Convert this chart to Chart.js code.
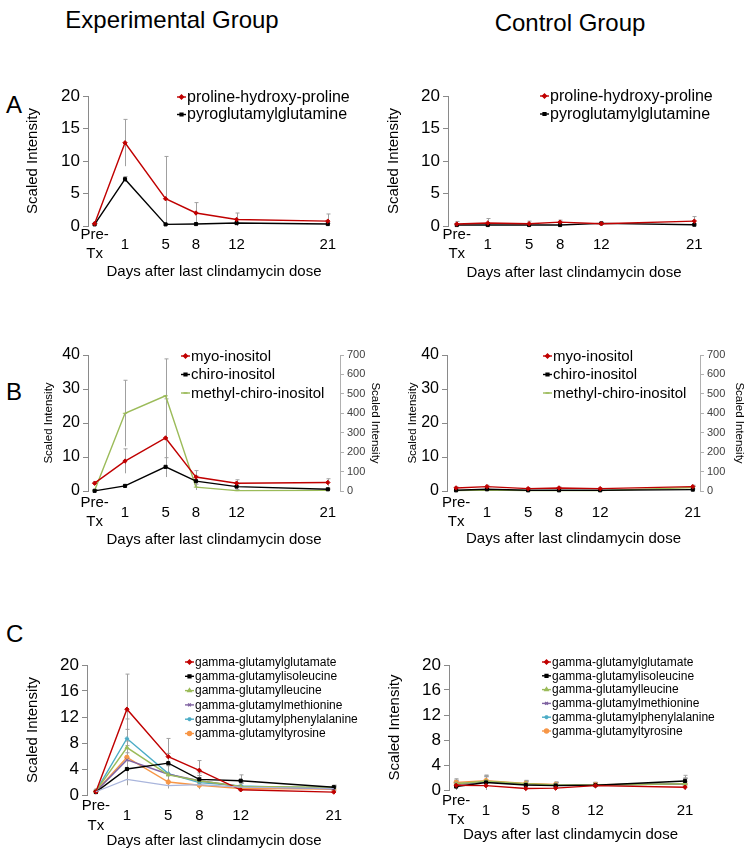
<!DOCTYPE html>
<html>
<head>
<meta charset="utf-8">
<script src="https://cdn.jsdelivr.net/npm/chart.js@4.4.1/dist/chart.umd.min.js"></script>
<style>
  body { margin: 0; background: #fff; width: 747px; height: 852px; position: relative; overflow: hidden; font-family: 'Liberation Sans', Arial, sans-serif; }
  .panel { position: absolute; }
  .lbl { position: absolute; color: #000; white-space: nowrap; line-height: 1; }
</style>
</head>
<body>
<div class="lbl" style="left:172px;top:8px;font-size:24px;transform:translateX(-50%)">Experimental Group</div>
<div class="lbl" style="left:570px;top:11px;font-size:24px;transform:translateX(-50%)">Control Group</div>
<div class="lbl" style="left:6px;top:93px;font-size:24px">A</div>
<div class="lbl" style="left:6px;top:380px;font-size:24px">B</div>
<div class="lbl" style="left:6px;top:622px;font-size:24px">C</div>
<script>
// x positions (days) and their labels
const days = [-2, 1, 5, 8, 12, 21];
const dayLabels = [['Pre-', 'Tx'], '1', '5', '8', '12', '21'];
const xTitle = 'Days after last clindamycin dose';
const yTitle = 'Scaled Intensity';

// Panel A
const prolineExp = [0.35, 12.8, 4.2, 2.0, 1.0, 0.75];
const prolineExpErr = [0.3, 3.6, 6.5, 1.6, 1.0, 1.1];
const pyroExp = [0.25, 7.2, 0.25, 0.3, 0.45, 0.3];
const pyroExpErr = [0.1, 0.4, 0.1, 0.1, 0.1, 0.1];
const prolineCtrl = [0.3, 0.45, 0.35, 0.6, 0.35, 0.75];
const prolineCtrlErr = [0.4, 0.7, 0.4, 0.3, 0.2, 0.7];
const pyroCtrl = [0.15, 0.15, 0.15, 0.15, 0.4, 0.2];
const pyroCtrlErr = [0.1, 0.1, 0.1, 0.1, 0.2, 0.1];

// Panel B (methyl-chiro-inositol on the right axis)
const myoExp = [2.3, 8.8, 15.6, 4.1, 2.3, 2.5];
const myoExpErr = [0.5, 3.6, 11.5, 1.9, 1.0, 1.1];
const chiroExp = [0.05, 1.5, 7.1, 2.9, 1.3, 0.5];
const chiroExpErr = [0.1, 0.3, 2.7, 1.5, 0.5, 0.3];
const methylExp = [3, 400, 490, 20, 2, 3];
const methylExpErr = [5, 170, 190, 15, 5, 5];
const myoCtrl = [0.9, 1.3, 0.7, 0.9, 0.7, 1.3];
const myoCtrlErr = [0.3, 0.4, 0.3, 0.3, 0.2, 0.4];
const chiroCtrl = [0.2, 0.5, 0.2, 0.2, 0.2, 0.4];
const chiroCtrlErr = [0.1, 0.2, 0.1, 0.1, 0.1, 0.2];
const methylCtrl = [2, 5, 2, 2, 2, 18];
const methylCtrlErr = [2, 3, 2, 2, 2, 5];

// Panel C
const glutamateExp = [0.5, 13.2, 5.9, 3.8, 0.8, 0.45];
const glutamateExpErr = [0.3, 5.4, 2.8, 1.5, 0.3, 0.2];
const isoleucineExp = [0.45, 4.0, 4.9, 2.4, 2.2, 1.2];
const isoleucineExpErr = [0.2, 2.5, 1.5, 1.0, 0.9, 0.3];
const leucineExp = [0.6, 7.3, 3.1, 2.2, 1.3, 1.2];
const leucineExpErr = [0.3, 2.8, 1.5, 0.8, 0.5, 0.3];
const methionineExp = [0.55, 5.4, 3.2, 2.2, 1.3, 0.95];
const methionineExpErr = [0.3, 2.2, 1.3, 0.8, 0.5, 0.3];
const phenylalanineExp = [0.6, 8.7, 3.3, 1.9, 1.4, 1.0];
const phenylalanineExpErr = [0.3, 3.0, 1.5, 0.8, 0.5, 0.3];
const tyrosineExp = [0.55, 5.8, 2.0, 1.5, 1.0, 0.9];
const tyrosineExpErr = [0.3, 2.5, 1.0, 0.6, 0.4, 0.3];
const unlabeledExp = [0.5, 2.4, 1.45, 1.6, 1.2, 1.0];
const glutamateCtrl = [0.75, 0.7, 0.25, 0.3, 0.7, 0.45];
const isoleucineCtrl = [0.55, 1.2, 0.8, 0.7, 0.75, 1.45];
const leucineCtrl = [1.0, 1.4, 1.0, 0.8, 0.8, 1.0];
const methionineCtrl = [0.9, 1.3, 0.9, 0.8, 0.8, 1.0];
const phenylalanineCtrl = [0.95, 1.3, 0.9, 0.85, 0.8, 1.0];
const tyrosineCtrl = [1.2, 1.5, 1.05, 0.9, 0.85, 0.95];
const gammaCtrlErr = [0.6, 0.9, 0.5, 0.4, 0.4, 0.9];

const FONT = "'Liberation Sans', Arial, sans-serif";
const AXIS = '#8a8a8a';
const RED = '#c00000', BLACK = '#000000', GREEN = '#9bbb59', PURPLE = '#8064a2', TEAL = '#4bacc6', ORANGE = '#f79646';
Chart.defaults.font.family = FONT;
Chart.defaults.color = '#000';

function series(label, values, errors, color, style, extra) {
  return Object.assign({
    label,
    data: values.map((v, i) => ({x: days[i], y: v})),
    errors,
    borderColor: color,
    backgroundColor: color,
    borderWidth: 1.4,
    pointStyle: style,
    pointRadius: 2.2,
    pointBorderWidth: 1,
    tension: 0,
    clip: 8
  }, extra || {});
}

// grey error bars, drawn under the lines
const errorBars = {
  id: 'errorBars',
  beforeDatasetsDraw(chart) {
    const ctx = chart.ctx;
    ctx.save();
    ctx.strokeStyle = '#a0a0a0';
    ctx.lineWidth = 1;
    chart.data.datasets.forEach((ds) => {
      if (!ds.errors) return;
      const ys = chart.scales[ds.yAxisID || 'y'];
      const xs = chart.scales.x;
      ds.data.forEach((pt, j) => {
        const e = ds.errors[j];
        const px = Math.round(xs.getPixelForValue(pt.x)) + 0.5;
        const top = ys.getPixelForValue(pt.y + e);
        const bot = ys.getPixelForValue(Math.max(pt.y - e, ys.min));
        ctx.beginPath();
        ctx.moveTo(px, top); ctx.lineTo(px, bot);
        ctx.moveTo(px - 2, top); ctx.lineTo(px + 2, top);
        ctx.stroke();
      });
    });
    ctx.restore();
  }
};

// Excel-style key inside the plot: short line + marker + name
const seriesKey = {
  id: 'seriesKey',
  afterDatasetsDraw(chart, args, opts) {
    if (!opts || opts.x === undefined) return;
    const ctx = chart.ctx;
    ctx.save();
    ctx.font = opts.size + 'px ' + FONT;
    ctx.textBaseline = 'middle';
    ctx.textAlign = 'left';
    let row = 0;
    chart.data.datasets.forEach((ds) => {
      if (ds.noKey) return;
      const y = opts.y + row * opts.rowH;
      const x = opts.x;
      ctx.strokeStyle = ds.borderColor;
      ctx.lineWidth = 1.4;
      ctx.beginPath();
      ctx.moveTo(x - 10, y); ctx.lineTo(x - 1, y);
      ctx.stroke();
      ctx.fillStyle = ds.borderColor;
      Chart.helpers.drawPoint(ctx, {pointStyle: ds.pointStyle, radius: 2, borderWidth: 1, rotation: 0}, x - 5.5, y);
      ctx.fillStyle = '#000';
      ctx.fillText(ds.label, x, y + 0.5);
      row++;
    });
    ctx.restore();
  }
};

function makeChart(spec) {
  const box = spec.box, area = spec.area;
  const div = document.createElement('div');
  div.className = 'panel';
  div.style.left = box.x + 'px';
  div.style.top = box.y + 'px';
  div.style.width = box.w + 'px';
  div.style.height = box.h + 'px';
  const cv = document.createElement('canvas');
  div.appendChild(cv);
  document.body.appendChild(div);

  const padLeft = 10;
  const yW = area.l - box.x - padLeft;
  const rW = spec.right ? box.x + box.w - area.r : 0;
  const xH = box.y + box.h - area.b;
  const yTitleSize = spec.yTitleSize || 15;
  const xTitleSize = 15;
  const yTitlePad = spec.yTitleX - (box.x + padLeft) - yTitleSize * 0.6;
  const xTitlePad = area.b + xH - spec.xTitleY - xTitleSize * 0.6;

  const scales = {
    x: {
      type: 'linear', min: spec.xMin, max: spec.xMax,
      grid: {display: false, drawTicks: false},
      border: {display: false},
      afterBuildTicks: (s) => { s.ticks = days.map((v) => ({value: v})); },
      afterFit: (s) => { s.height = xH; },
      ticks: {
        autoSkip: false, maxRotation: 0, crossAlign: 'center',
        padding: spec.xTickY - area.b,
        font: {size: 15, lineHeight: spec.xTickLH || 1.27},
        callback: (v, i) => dayLabels[i]
      },
      title: {display: true, text: xTitle, font: {size: xTitleSize}, padding: {top: 0, bottom: xTitlePad}}
    },
    y: {
      position: 'left', min: 0, max: spec.yMax,
      grid: {drawOnChartArea: false, tickLength: 5, color: AXIS},
      border: {color: AXIS},
      afterFit: (s) => { s.width = yW; },
      ticks: {stepSize: spec.yStep, padding: 3, font: {size: spec.yTickSize || 17}},
      title: {display: true, text: yTitle, font: {size: yTitleSize}, padding: {top: yTitlePad, bottom: 0}}
    }
  };
  if (spec.right) {
    const rSize = 11.5;
    scales.y2 = {
      position: 'right', min: 0, max: 700,
      grid: {drawOnChartArea: false, tickLength: 4, color: '#b0b0b0'},
      border: {color: '#b0b0b0'},
      afterFit: (s) => { s.width = rW; },
      ticks: {stepSize: 100, padding: 3, color: '#404040', font: {size: 11}},
      title: {display: true, text: yTitle, font: {size: rSize}, padding: {top: area.r + rW - spec.rightTitleX - rSize * 0.6, bottom: 0}}
    };
  }

  return new Chart(cv, {
    type: 'line',
    data: {datasets: spec.datasets},
    options: {
      responsive: true,
      maintainAspectRatio: false,
      animation: false,
      layout: {padding: {
        left: padLeft,
        right: box.x + box.w - area.r - rW,
        top: area.t - box.y,
        bottom: 0
      }},
      scales,
      plugins: {
        legend: {display: false},
        tooltip: {enabled: false},
        seriesKey: {x: spec.key.x - box.x, y: spec.key.y - box.y, rowH: spec.key.rowH, size: spec.key.size}
      }
    },
    plugins: [errorBars, seriesKey]
  });
}

// A
makeChart({
  box: {x: 0, y: 70, w: 390, h: 222}, area: {l: 88, t: 96, r: 340, b: 226},
  xMin: -2.65, xMax: 22.2, yMax: 20, yStep: 5,
  yTitleX: 33, xTickY: 235, xTitleY: 272,
  key: {x: 187, y: 97, rowH: 17.5, size: 16},
  datasets: [
    series('proline-hydroxy-proline', prolineExp, prolineExpErr, RED, 'rectRot'),
    series('pyroglutamylglutamine', pyroExp, pyroExpErr, BLACK, 'rect')
  ]
});
makeChart({
  box: {x: 375, y: 70, w: 372, h: 222}, area: {l: 448, t: 96, r: 700, b: 226},
  xMin: -2.85, xMax: 21.55, yMax: 20, yStep: 5,
  yTitleX: 394, xTickY: 235, xTitleY: 273,
  key: {x: 550, y: 96, rowH: 18, size: 16},
  datasets: [
    series('proline-hydroxy-proline', prolineCtrl, prolineCtrlErr, RED, 'rectRot'),
    series('pyroglutamylglutamine', pyroCtrl, pyroCtrlErr, BLACK, 'rect')
  ]
});

// B
makeChart({
  box: {x: 0, y: 330, w: 390, h: 222}, area: {l: 88, t: 355, r: 340, b: 491},
  xMin: -2.65, xMax: 22.2, yMax: 40, yStep: 10, yTickSize: 16, yTitleSize: 11.5,
  yTitleX: 49, xTickY: 503, xTitleY: 540, right: true, rightTitleX: 375,
  key: {x: 191, y: 356, rowH: 18.5, size: 15},
  datasets: [
    series('myo-inositol', myoExp, myoExpErr, RED, 'rectRot'),
    series('chiro-inositol', chiroExp, chiroExpErr, BLACK, 'rect'),
    series('methyl-chiro-inositol', methylExp, methylExpErr, GREEN, 'line', {yAxisID: 'y2'})
  ]
});
makeChart({
  box: {x: 375, y: 330, w: 372, h: 222}, area: {l: 447, t: 355, r: 700, b: 491},
  xMin: -2.88, xMax: 21.7, yMax: 40, yStep: 10, yTickSize: 16, yTitleSize: 11.5,
  yTitleX: 413, xTickY: 503, xTitleY: 539, right: true, rightTitleX: 739,
  key: {x: 553, y: 356, rowH: 18.5, size: 15},
  datasets: [
    series('myo-inositol', myoCtrl, myoCtrlErr, RED, 'rectRot'),
    series('chiro-inositol', chiroCtrl, chiroCtrlErr, BLACK, 'rect'),
    series('methyl-chiro-inositol', methylCtrl, methylCtrlErr, GREEN, 'line', {yAxisID: 'y2'})
  ]
});

// C
makeChart({
  box: {x: 0, y: 640, w: 390, h: 212}, area: {l: 87, t: 665, r: 341, b: 795},
  xMin: -2.86, xMax: 21.7, yMax: 20, yStep: 4,
  yTitleX: 33, xTickY: 806, xTitleY: 841, xTickLH: 1.35,
  key: {x: 195, y: 662, rowH: 14.3, size: 12},
  datasets: [
    series('unlabeled', unlabeledExp, null, '#a9b5dc', 'circle', {pointRadius: 0, borderWidth: 1.2, noKey: true}),
    series('gamma-glutamylglutamate', glutamateExp, glutamateExpErr, RED, 'rectRot'),
    series('gamma-glutamylisoleucine', isoleucineExp, isoleucineExpErr, BLACK, 'rect'),
    series('gamma-glutamylleucine', leucineExp, leucineExpErr, GREEN, 'triangle'),
    series('gamma-glutamylmethionine', methionineExp, methionineExpErr, PURPLE, 'crossRot'),
    series('gamma-glutamylphenylalanine', phenylalanineExp, phenylalanineExpErr, TEAL, 'star'),
    series('gamma-glutamyltyrosine', tyrosineExp, tyrosineExpErr, ORANGE, 'circle')
  ]
});
makeChart({
  box: {x: 375, y: 640, w: 372, h: 212}, area: {l: 449, t: 665, r: 692, b: 790},
  xMin: -2.72, xMax: 21.7, yMax: 20, yStep: 4,
  yTitleX: 395, xTickY: 801, xTitleY: 835,
  key: {x: 552, y: 662, rowH: 13.8, size: 12},
  datasets: [
    series('gamma-glutamylglutamate', glutamateCtrl, gammaCtrlErr, RED, 'rectRot'),
    series('gamma-glutamylisoleucine', isoleucineCtrl, gammaCtrlErr, BLACK, 'rect'),
    series('gamma-glutamylleucine', leucineCtrl, gammaCtrlErr, GREEN, 'triangle'),
    series('gamma-glutamylmethionine', methionineCtrl, gammaCtrlErr, PURPLE, 'crossRot'),
    series('gamma-glutamylphenylalanine', phenylalanineCtrl, gammaCtrlErr, TEAL, 'star'),
    series('gamma-glutamyltyrosine', tyrosineCtrl, gammaCtrlErr, ORANGE, 'circle')
  ]
});
</script>
</body>
</html>
